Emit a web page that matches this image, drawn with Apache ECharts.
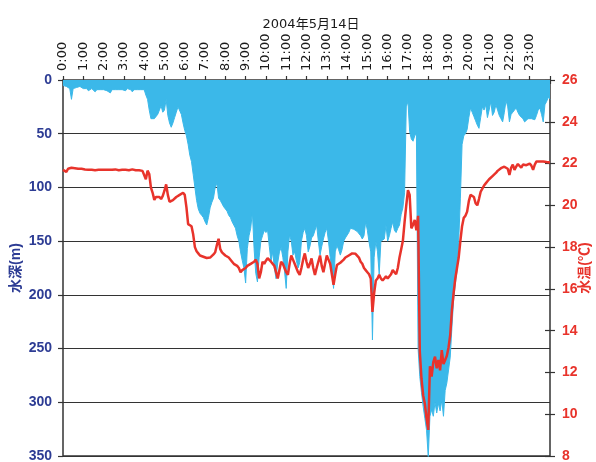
<!DOCTYPE html>
<html>
<head>
<meta charset="utf-8">
<title>2004年5月14日</title>
<script src="https://cdn.jsdelivr.net/npm/echarts@6/dist/echarts.min.js"></script>
<style>
  html, body { margin: 0; padding: 0; background: #fff; }
  #chart { width: 596px; height: 462px; }
</style>
</head>
<body>
<div id="chart"></div>
<script>
'use strict';

var hourLabels = ['0:00','1:00','2:00','3:00','4:00','5:00','6:00','7:00','8:00','9:00','10:00','11:00',
                  '12:00','13:00','14:00','15:00','16:00','17:00','18:00','19:00','20:00','21:00','22:00','23:00'];

// 水深 (m), one reading every 5 minutes, 0:00 .. 24:00
var depth = [
  5,6,6,7,8,18,8,7,7,6,6,7,
  8,9,8,10,9,8,9,11,9,8,9,10,
  9,8,10,9,12,9,8,9,10,9,8,9,
  9,10,8,9,9,11,9,8,9,10,9,8,
  9,14,18,28,36,37,36,35,32,31,24,30,
  28,18,33,40,44,40,35,30,25,26,32,40,
  47,52,60,70,76,88,100,112,120,124,126,128,
  132,135,128,119,114,110,100,96,110,112,115,118,
  120,122,126,128,132,135,138,145,150,160,168,175,
  189,157,145,138,123,157,180,188,165,150,145,140,
  142,140,155,169,160,175,185,170,160,156,165,178,
  194,160,144,150,163,160,168,175,170,150,142,138,
  145,160,155,147,145,140,135,150,163,155,148,142,
  138,150,165,175,194,160,154,158,163,158,150,147,
  147,142,138,137,139,140,141,140,145,148,145,132,
  140,151,160,242,165,150,160,181,150,151,148,135,
  150,145,138,132,140,142,138,135,125,119,105,25,
  20,48,55,57,52,50,250,276,291,304,315,326,
  351,313,307,313,300,310,301,308,298,313,289,282,
  270,258,230,205,190,178,150,110,60,52,50,46,
  35,26,30,34,38,42,45,35,25,28,23,35,
  28,20,33,30,23,28,33,36,39,30,19,25,
  39,32,30,28,26,30,33,33,36,39,38,36,
  35,36,37,37,33,28,26,32,39,23,20,16,
  18
];

// 水温 (℃), same 5-minute steps
var temp = [
  21.7,21.75,21.6,21.75,21.8,21.8,21.8,21.78,21.78,21.75,21.75,21.75,
  21.75,21.72,21.72,21.7,21.72,21.7,21.7,21.68,21.7,21.7,21.72,21.7,
  21.7,21.7,21.68,21.7,21.7,21.7,21.7,21.72,21.7,21.68,21.7,21.7,
  21.7,21.7,21.7,21.68,21.7,21.72,21.7,21.68,21.66,21.68,21.66,21.65,
  21.6,21.25,21.66,21.5,20.85,20.6,20.26,20.4,20.35,20.4,20.3,20.45,
  20.7,21.0,20.5,20.17,20.2,20.25,20.26,20.4,20.45,20.5,20.55,20.6,
  20.5,19.9,19.1,19.06,19.0,18.6,18.0,17.8,17.7,17.6,17.55,17.54,
  17.5,17.48,17.46,17.5,17.55,17.65,17.75,18.1,18.4,17.9,17.75,17.7,
  17.6,17.55,17.5,17.45,17.3,17.2,17.15,17.1,17.0,16.8,16.9,16.95,
  17.0,17.1,17.14,17.2,17.25,17.3,17.4,17.2,16.5,16.8,17.3,17.2,
  17.35,17.47,17.4,17.3,17.3,17.1,16.8,16.5,16.9,17.3,17.2,17.0,
  16.8,16.67,17.2,17.6,17.4,17.2,17.0,16.8,16.67,17.0,17.4,17.7,
  17.3,17.0,17.2,17.46,17.0,16.67,17.0,17.3,17.6,17.1,16.8,17.2,
  17.6,17.4,17.2,16.7,16.2,16.7,17.14,17.2,17.25,17.3,17.4,17.5,
  17.55,17.6,17.65,17.7,17.7,17.68,17.6,17.5,17.3,17.2,17.0,16.9,
  16.8,16.7,16.5,14.9,15.8,16.4,16.5,16.67,16.5,16.4,16.5,16.6,
  16.5,16.5,16.7,16.9,16.8,16.7,17.0,17.5,17.9,18.3,19.2,20.0,
  20.73,20.5,18.9,19.06,19.3,18.8,19.5,13.0,11.7,10.9,10.5,9.8,
  9.25,12.3,11.8,12.5,12.76,12.2,12.6,12.1,13.07,12.4,12.6,12.8,
  13.2,13.8,15.0,15.8,16.5,17.0,17.5,18.3,19.0,19.4,19.5,19.7,
  20.2,20.5,20.45,20.4,20.1,20.0,20.3,20.65,20.8,20.95,21.05,21.15,
  21.25,21.32,21.4,21.48,21.55,21.65,21.72,21.78,21.82,21.85,21.88,21.75,
  21.45,21.8,21.95,21.7,21.85,21.98,21.9,21.8,21.95,22.0,21.92,22.0,
  22.0,21.9,21.7,21.95,22.1,22.12,22.1,22.12,22.1,22.08,22.07,22.05,
  22.05
];

var BLUE = '#3bb8e9';
var RED = '#e8332b';
var NAVY = '#2d3c94';
var DARK = '#333';
var FONT = 'Arial, "Liberation Sans", "Noto Sans CJK JP", sans-serif';
var WIDE = '"DejaVu Sans", "Noto Sans CJK JP", sans-serif';

function toPairs(values) {
  var out = [];
  for (var i = 0; i < values.length; i++) {
    out.push([i / 12, values[i]]);
  }
  return out;
}

var myChart = echarts.init(document.getElementById('chart'));

var option = {
  animation: false,
  backgroundColor: '#fff',
  title: {
    text: '2004年5月14日',
    left: 306,
    top: 13,
    textAlign: 'center',
    textStyle: { fontFamily: WIDE, fontSize: 13, fontWeight: 'normal', color: '#1a1a1a' }
  },
  // frame drawn by the grid border; axes only carry ticks and labels
  grid: {
    left: 63, right: 46, top: 80, bottom: 6,
    containLabel: false,
    outerBoundsMode: 'none',
    show: true,
    borderColor: DARK,
    borderWidth: 1.5
  },
  xAxis: {
    type: 'value',
    position: 'top',
    offset: -4,
    min: 0,
    max: 24,
    interval: 1,
    splitLine: { show: false },
    axisLine: { show: false },
    axisTick: { show: true, length: 8, lineStyle: { color: DARK, width: 1.2 } },
    axisLabel: {
      rotate: 90,
      margin: 13,
      fontFamily: WIDE,
      fontSize: 13,
      color: '#1a1a1a',
      formatter: function (v) { return hourLabels[v] || ''; }
    }
  },
  yAxis: [
    {
      type: 'value',
      inverse: true,
      min: 0,
      max: 350,
      interval: 50,
      name: '水深(m)',
      nameLocation: 'middle',
      nameGap: 47,
      nameRotate: 90,
      nameMoveOverlap: false,
      nameTextStyle: {
        fontFamily: FONT, fontSize: 14, fontWeight: 'bold', color: NAVY,
        align: 'center', verticalAlign: 'middle'
      },
      axisLine: { show: false },
      axisTick: { show: true, length: 5, lineStyle: { color: DARK, width: 1.2 } },
      axisLabel: { margin: 11, fontFamily: FONT, fontSize: 14, fontWeight: 'bold', color: NAVY },
      splitLine: { show: true, lineStyle: { color: DARK, width: 1.2 } }
    },
    {
      type: 'value',
      position: 'right',
      offset: -5,
      min: 8,
      max: 26,
      interval: 2,
      name: '水温(℃)',
      nameLocation: 'middle',
      nameGap: 40,
      nameRotate: 90,
      nameMoveOverlap: false,
      nameTextStyle: {
        fontFamily: FONT, fontSize: 14, fontWeight: 'bold', color: RED,
        align: 'center', verticalAlign: 'middle'
      },
      axisLine: { show: false },
      axisTick: { show: true, length: 10, lineStyle: { color: DARK, width: 1.2 } },
      axisLabel: { margin: 17, fontFamily: FONT, fontSize: 14, fontWeight: 'bold', color: RED },
      splitLine: { show: false }
    }
  ],
  series: [
    {
      name: '水深',
      type: 'line',
      yAxisIndex: 0,
      data: toPairs(depth),
      showSymbol: false,
      lineStyle: { color: BLUE, width: 1 },
      areaStyle: { color: BLUE, opacity: 1 },
      z: 2
    },
    {
      name: '水温',
      type: 'line',
      yAxisIndex: 1,
      data: toPairs(temp),
      showSymbol: false,
      lineStyle: { color: RED, width: 2.5 },
      z: 3
    }
  ]
};

myChart.setOption(option);
</script>
</body>
</html>
